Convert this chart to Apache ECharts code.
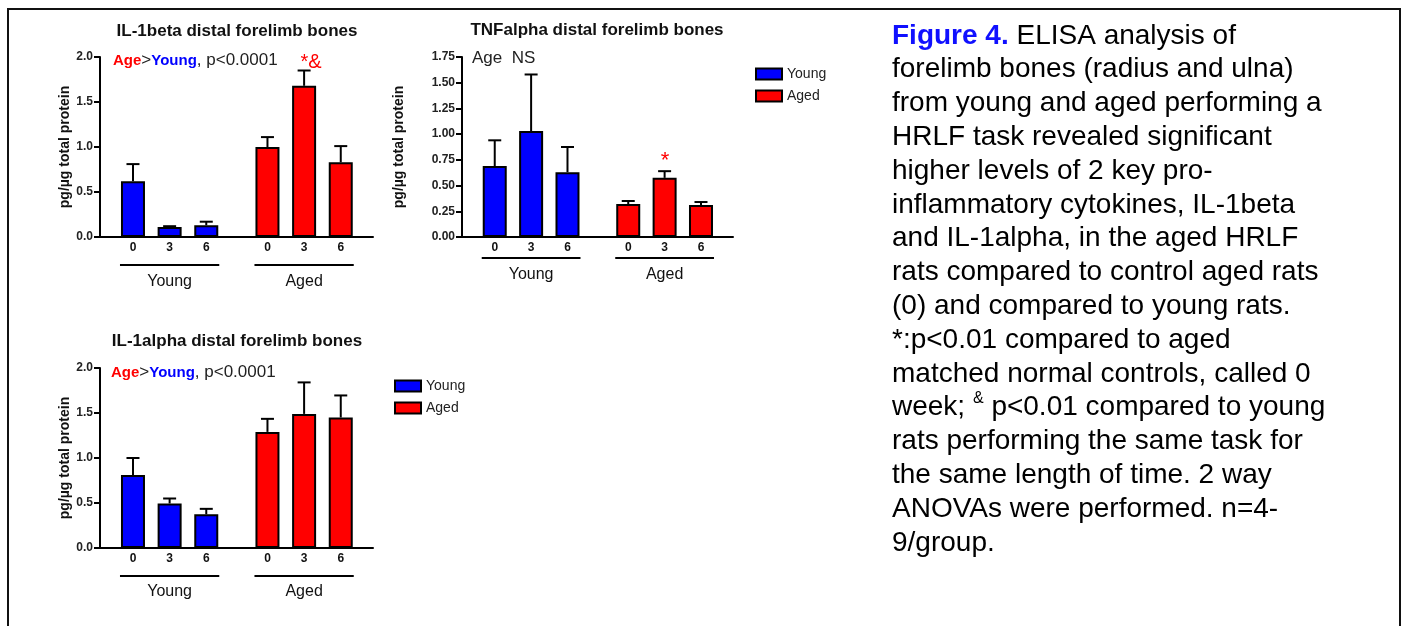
<!DOCTYPE html>
<html><head><meta charset="utf-8">
<script src="https://cdn.jsdelivr.net/npm/echarts@6/dist/echarts.min.js"></script>
<style>html,body{margin:0;padding:0;background:#fff}#c{width:1406px;height:626px}</style>
</head><body><div id="c"></div>
<script>
// ---- data ----
const weeks = ['0', '3', '6', '0', '3', '6'];
const groups = ['Young', 'Aged'];
const slotPos = [0, 1, 2, 3.67, 4.67, 5.67];   // bar slots (gap between groups)

const il1bYoung = [0.62, 0.11, 0.13];
const il1bYoungSem = [0.19, 0.01, 0.04];
const il1bAged = [1.00, 1.68, 0.83];
const il1bAgedSem = [0.11, 0.17, 0.18];

const tnfYoung = [0.69, 1.03, 0.63];
const tnfYoungSem = [0.25, 0.55, 0.245];
const tnfAged = [0.32, 0.575, 0.31];
const tnfAgedSem = [0.03, 0.065, 0.03];

const il1aYoung = [0.81, 0.495, 0.375];
const il1aYoungSem = [0.19, 0.055, 0.06];
const il1aAged = [1.29, 1.49, 1.45];
const il1aAgedSem = [0.145, 0.35, 0.245];

const titles = ['IL-1beta distal forelimb bones', 'TNFalpha distal forelimb bones', 'IL-1alpha distal forelimb bones'];
const yName = 'pg/\u00b5g total protein';

const FF = '"Liberation Sans", Arial, Helvetica, sans-serif';
const BAR_W = 24;

function panel(i, cfg) {
  const grid = { left: cfg.left, top: cfg.top, width: cfg.width, height: cfg.height };
  const xAxis = {
    type: 'value', gridIndex: i, min: -0.9, max: 6.55,
    axisLine: { show: true, onZero: false, lineStyle: { color: '#000', width: 2 } },
    axisTick: { show: false }, splitLine: { show: false },
    axisLabel: {
      customValues: slotPos, margin: 5,
      formatter: v => { let k = 0; slotPos.forEach((p, j) => { if (Math.abs(p - v) < Math.abs(slotPos[k] - v)) k = j; }); return weeks[k]; },
      fontFamily: FF, fontWeight: 'bold', fontSize: 12, color: '#111'
    }
  };
  const yAxis = {
    type: 'value', gridIndex: i, min: 0, max: cfg.yMax, interval: cfg.yInt,
    axisLine: { show: true, onZero: false, lineStyle: { color: '#000', width: 2 } },
    axisTick: { show: true, length: 6, lineStyle: { color: '#000', width: 2 } },
    splitLine: { show: false },
    axisLabel: { formatter: v => v.toFixed(cfg.dec), margin: 7, fontFamily: FF, fontWeight: 'bold', fontSize: 12, color: '#222' },
    name: yName, nameLocation: 'middle', nameGap: cfg.nameGap,
    nameTextStyle: { fontFamily: FF, fontWeight: 'bold', fontSize: 14, color: '#111' }
  };
  const yData = cfg.young.map((v, j) => [slotPos[j], v]);
  const aData = cfg.aged.map((v, j) => [slotPos[j + 3], v]);
  const errData = cfg.young.map((v, j) => [slotPos[j], v, cfg.youngSem[j]])
    .concat(cfg.aged.map((v, j) => [slotPos[j + 3], v, cfg.agedSem[j]]));
  const series = [
    { type: 'bar', name: 'Young', xAxisIndex: i, yAxisIndex: i, data: yData, barWidth: BAR_W, barGap: '-100%',
      itemStyle: { color: '#0000ff', borderColor: '#000', borderWidth: 2 } },
    { type: 'bar', name: 'Aged', xAxisIndex: i, yAxisIndex: i, data: aData, barWidth: BAR_W, barGap: '-100%',
      itemStyle: { color: '#ff0000', borderColor: '#000', borderWidth: 2 } },
    { type: 'custom', name: 'err' + i, xAxisIndex: i, yAxisIndex: i, z: 5, data: errData, encode: { x: 0, y: 1 },
      renderItem: (params, api) => {
        const x = api.value(0), v = api.value(1), e = api.value(2);
        const p0 = api.coord([x, v]), p1 = api.coord([x, v + e]);
        return { type: 'group', children: [
          { type: 'line', shape: { x1: p0[0], y1: p0[1], x2: p1[0], y2: p1[1] }, style: { stroke: '#000', lineWidth: 2 } },
          { type: 'line', shape: { x1: p1[0] - 6.5, y1: p1[1], x2: p1[0] + 6.5, y2: p1[1] }, style: { stroke: '#000', lineWidth: 2 } }
        ] };
      } },
    { type: 'custom', name: 'grp' + i, xAxisIndex: i, yAxisIndex: i, clip: false, silent: true,
      data: [[slotPos[0], slotPos[2], 0], [slotPos[3], slotPos[5], 0]], encode: { x: [0, 1], y: 2 },
      renderItem: (params, api) => {
        const pL = api.coord([api.value(0), 0]), pR = api.coord([api.value(1), 0]);
        const ly = pL[1] + cfg.lineOff, ty = pL[1] + cfg.labelOff;
        return { type: 'group', children: [
          { type: 'line', shape: { x1: pL[0] - BAR_W / 2 - 1, y1: ly, x2: pR[0] + BAR_W / 2 + 1, y2: ly }, style: { stroke: '#000', lineWidth: 2 } },
          { type: 'text', x: (pL[0] + pR[0]) / 2, y: ty, style: { text: groups[params.dataIndex], fill: '#111', font: '16px ' + FF, align: 'center', verticalAlign: 'middle' } }
        ] };
      } }
  ];
  return { grid, xAxis, yAxis, series };
}

const panels = [
  panel(0, { left: 100, top: 57, width: 273, height: 180, yMax: 2.0, yInt: 0.5, dec: 1, nameGap: 28, lineOff: 28, labelOff: 45,
             young: il1bYoung, youngSem: il1bYoungSem, aged: il1bAged, agedSem: il1bAgedSem }),
  panel(1, { left: 462, top: 57, width: 271, height: 180, yMax: 1.75, yInt: 0.25, dec: 2, nameGap: 56, lineOff: 21, labelOff: 38,
             young: tnfYoung, youngSem: tnfYoungSem, aged: tnfAged, agedSem: tnfAgedSem }),
  panel(2, { left: 100, top: 368, width: 273, height: 180, yMax: 2.0, yInt: 0.5, dec: 1, nameGap: 28, lineOff: 28, labelOff: 44,
             young: il1aYoung, youngSem: il1aYoungSem, aged: il1aAged, agedSem: il1aAgedSem })
];

const annRich = {
  r: { color: '#ff0000', fontWeight: 'bold', fontSize: 15, fontFamily: FF },
  b: { color: '#0000ff', fontWeight: 'bold', fontSize: 15, fontFamily: FF },
  k: { color: '#222', fontWeight: 'normal', fontSize: 17, fontFamily: FF }
};

const captionLines = [
  '{fig|Figure 4.} ELISA analysis of',
  'forelimb bones (radius and ulna)',
  'from young and aged performing a',
  'HRLF task revealed significant',
  'higher levels of 2 key pro-',
  'inflammatory cytokines, IL-1beta',
  'and IL-1alpha, in the aged HRLF',
  'rats compared to control aged rats',
  '(0) and compared to young rats.',
  '*:p<0.01 compared to aged',
  'matched normal controls, called 0',
  'week; {sup|&} p<0.01 compared to young',
  'rats performing the same task for',
  'the same length of time. 2 way',
  'ANOVAs were performed. n=4-',
  '9/group.'
];
const LH = 33.8;

const option = {
  animation: false,
  backgroundColor: '#fff',
  grid: panels.map(p => p.grid),
  xAxis: panels.map(p => p.xAxis),
  yAxis: panels.map(p => p.yAxis),
  series: panels.flatMap(p => p.series),
  legend: [
    { data: groups, orient: 'vertical', left: 750, top: 62, itemWidth: 26, itemHeight: 11, itemGap: 8, icon: 'rect', selectedMode: false,
      textStyle: { fontSize: 14, color: '#222', fontFamily: FF } },
    { data: groups, orient: 'vertical', left: 389, top: 374, itemWidth: 26, itemHeight: 11, itemGap: 8, icon: 'rect', selectedMode: false,
      textStyle: { fontSize: 14, color: '#222', fontFamily: FF } }
  ],
  title: [
    { text: titles[0], left: 237, top: 23, textAlign: 'center', padding: 0, textStyle: { fontFamily: FF, fontWeight: 'bold', fontSize: 17, color: '#111' } },
    { text: titles[1], left: 597, top: 22, textAlign: 'center', padding: 0, textStyle: { fontFamily: FF, fontWeight: 'bold', fontSize: 17, color: '#111' } },
    { text: titles[2], left: 237, top: 333, textAlign: 'center', padding: 0, textStyle: { fontFamily: FF, fontWeight: 'bold', fontSize: 17, color: '#111' } },
    { text: '{r|Age}{k|>}{b|Young}{k|, p<0.0001}', left: 113, top: 52, padding: 0, textStyle: { fontWeight: 'normal', rich: annRich } },
    { text: '{r|Age}{k|>}{b|Young}{k|, p<0.0001}', left: 111, top: 364, padding: 0, textStyle: { fontWeight: 'normal', rich: annRich } },
    { text: '*&', left: 311, top: 52, textAlign: 'center', padding: 0, textStyle: { fontFamily: FF, fontSize: 20, color: '#ff0000', fontWeight: 'normal' } },
    { text: '*', left: 665, top: 150, textAlign: 'center', padding: 0, textStyle: { fontFamily: FF, fontSize: 22, color: '#ff0000', fontWeight: 'normal' } },
    { text: 'Age  NS', left: 472, top: 50, padding: 0, textStyle: { fontFamily: FF, fontSize: 17, color: '#222', fontWeight: 'normal' } },
    { text: captionLines.join('\n'), left: 892, top: 19, padding: 0,
      textStyle: { fontFamily: FF, fontSize: 28, color: '#000', fontWeight: 'normal', lineHeight: LH,
        rich: {
          fig: { fontFamily: FF, fontSize: 28, fontWeight: 'bold', color: '#1010ff', lineHeight: LH },
          sup: { fontFamily: FF, fontSize: 16, color: '#000', fontWeight: 'normal', lineHeight: 14, verticalAlign: 'top' }
        } } }
  ],
  graphic: [
    { type: 'polyline', shape: { points: [[8, 660], [8, 9], [1400, 9], [1400, 660]] }, style: { stroke: '#111', lineWidth: 2, fill: null }, z: 100 }
  ]
};

const chart = echarts.init(document.getElementById('c'), null, { renderer: 'canvas' });
chart.setOption(option);
</script></body></html>
